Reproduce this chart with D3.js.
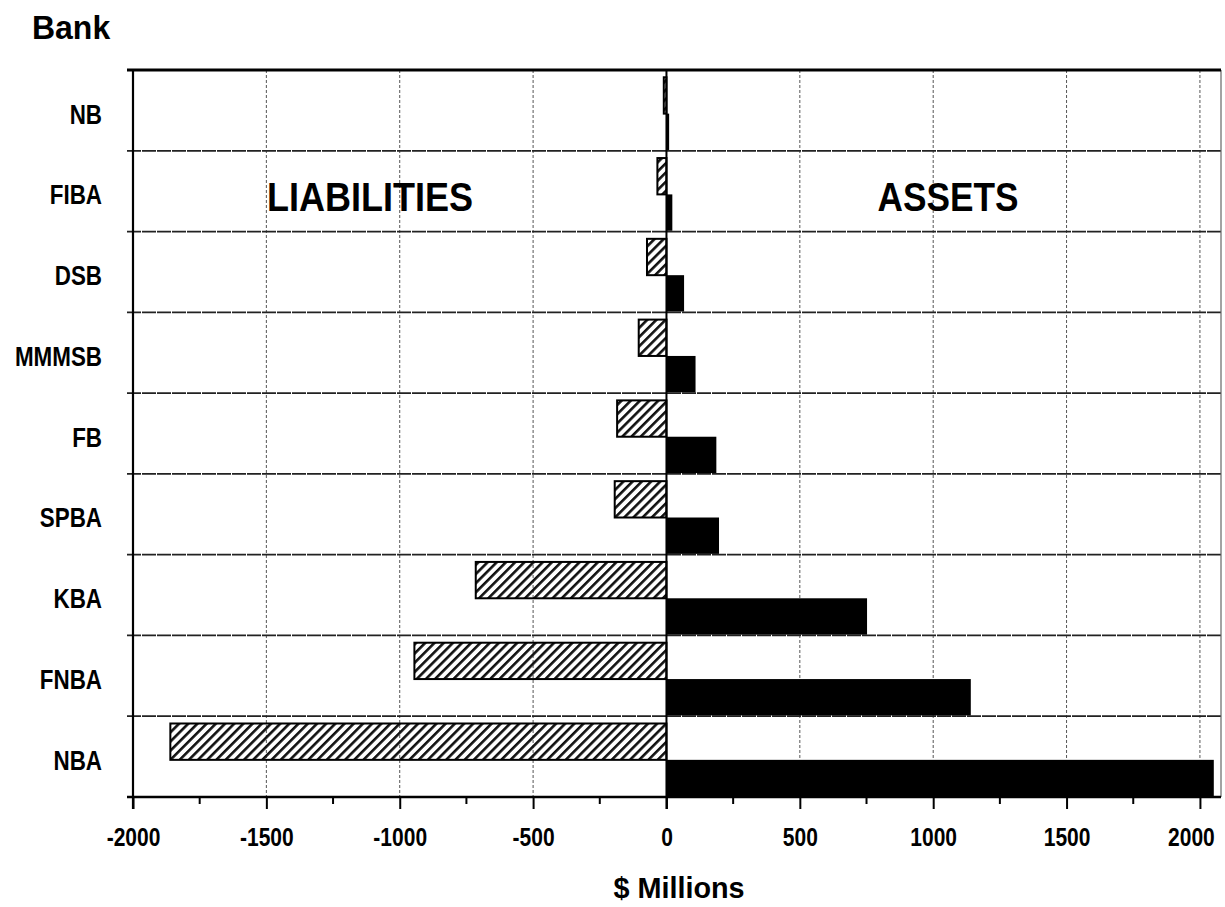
<!DOCTYPE html>
<html>
<head>
<meta charset="utf-8">
<script src="https://cdn.jsdelivr.net/npm/d3@7"></script>
<style>
  body { margin: 0; background: #fff; }
  text { font-family: "Liberation Sans", Arial, sans-serif; font-weight: bold; fill: #000; }
</style>
</head>
<body>
<svg width="1225" height="907"></svg>
<script>
// bank balance sheet, $ millions
const banks = ["NB", "FIBA", "DSB", "MMMSB", "FB", "SPBA", "KBA", "FNBA", "NBA"]
const liabilities = [-10, -34, -73, -104, -185, -194, -715, -945, -1860]
const assets = [10, 22, 66, 109, 187, 197, 752, 1141, 2052]
const xTicks = [-2000, -1500, -1000, -500, 0, 500, 1000, 1500, 2000]
const xMinor = [-1750, -1250, -750, -250, 250, 750, 1250, 1750]

const svg = d3.select("svg")
const plotL = 133, plotR = 1221, plotT = 70, plotB = 797

const x = d3.scaleLinear().domain([-2000, 2079]).range([plotL, plotR])
const y = d3.scaleBand().domain(banks).range([plotT, plotB])
const bw = y.bandwidth()
const ySub = d3.scaleBand().domain(["liab", "asset"]).range([bw * 0.09, bw * 0.99])

// squeeze text horizontally, the scan uses a narrow face
function condense(sel, k) {
  sel.each(function() {
    const w = this.getComputedTextLength()
    d3.select(this).attr("textLength", w * k).attr("lengthAdjust", "spacingAndGlyphs")
  })
}

// hatch for liabilities
const defs = svg.append("defs")
defs.append("pattern")
    .attr("id", "hatch")
    .attr("patternUnits", "userSpaceOnUse")
    .attr("width", 6.5).attr("height", 6.5)
    .attr("patternTransform", "rotate(45)")
  .append("rect")
    .attr("width", 2.6).attr("height", 6.5)
    .attr("fill", "#111")

// vertical grid (thin, dotted)
svg.append("g").selectAll("line")
  .data(xTicks.filter(d => d !== 0 && d !== -2000))
  .enter().append("line")
    .attr("x1", d => x(d)).attr("x2", d => x(d))
    .attr("y1", plotT).attr("y2", plotB)
    .attr("stroke", "#555").attr("stroke-width", 1)
    .attr("stroke-dasharray", "3,2")

// horizontal grid between banks
svg.append("g").selectAll("line")
  .data(banks.slice(1))
  .enter().append("line")
    .attr("x1", plotL - 6).attr("x2", plotR)
    .attr("y1", d => y(d)).attr("y2", d => y(d))
    .attr("stroke", "#222").attr("stroke-width", 1.8)
    .attr("stroke-dasharray", "14,1")

// right border
svg.append("line")
  .attr("x1", plotR).attr("x2", plotR).attr("y1", plotT).attr("y2", plotB)
  .attr("stroke", "#666").attr("stroke-width", 1.2)

const rows = banks.map((b, i) => ({bank: b, liab: liabilities[i], asset: assets[i]}))

// liability bars
svg.append("g").selectAll("rect")
  .data(rows)
  .enter().append("rect")
    .attr("x", d => x(d.liab))
    .attr("y", d => y(d.bank) + ySub("liab"))
    .attr("width", d => x(0) - x(d.liab))
    .attr("height", ySub.bandwidth())
    .attr("fill", "url(#hatch)")
    .attr("stroke", "#000").attr("stroke-width", 2)

// asset bars
svg.append("g").selectAll("rect")
  .data(rows)
  .enter().append("rect")
    .attr("x", x(0))
    .attr("y", d => y(d.bank) + ySub("asset"))
    .attr("width", d => x(d.asset) - x(0))
    .attr("height", ySub.bandwidth())
    .attr("fill", "#000")

// zero line
svg.append("line")
  .attr("x1", x(0)).attr("x2", x(0)).attr("y1", plotT).attr("y2", plotB + 12)
  .attr("stroke", "#000").attr("stroke-width", 2)

// frame: top, left, bottom
svg.append("line").attr("x1", plotL - 6).attr("x2", plotR).attr("y1", plotT).attr("y2", plotT)
  .attr("stroke", "#000").attr("stroke-width", 3)
svg.append("line").attr("x1", plotL).attr("x2", plotL).attr("y1", plotT).attr("y2", plotB + 12)
  .attr("stroke", "#000").attr("stroke-width", 2.2)
svg.append("line").attr("x1", plotL - 6).attr("x2", plotR).attr("y1", plotB).attr("y2", plotB)
  .attr("stroke", "#000").attr("stroke-width", 2.5)

// x axis
const xAxis = svg.append("g").attr("transform", `translate(0,${plotB})`)
  .call(d3.axisBottom(x).tickValues(xTicks).tickSize(12).tickPadding(0).tickFormat(d => String(d)))
xAxis.select(".domain").remove()
xAxis.selectAll(".tick line").attr("stroke", "#000").attr("stroke-width", 2)
xAxis.selectAll("text").attr("y", 49).attr("dy", null).style("font-size", "25px")
  .attr("dx", d => d === 2000 ? -9 : 0)
  .call(condense, 0.84)

svg.append("g").selectAll("line")
  .data(xMinor)
  .enter().append("line")
    .attr("x1", d => x(d)).attr("x2", d => x(d))
    .attr("y1", plotB).attr("y2", plotB + 7)
    .attr("stroke", "#000").attr("stroke-width", 2)

// y axis labels
const yAxis = svg.append("g").attr("transform", `translate(${plotL},0)`)
  .call(d3.axisLeft(y).tickSize(0).tickPadding(31))
yAxis.select(".domain").remove()
yAxis.selectAll("text").attr("dy", "0.47em").style("font-size", "28px")
  .call(condense, 0.8)

// titles
svg.append("text").attr("x", 32).attr("y", 39).style("font-size", "34px").text("Bank")
  .call(condense, 0.94)
svg.append("text").attr("x", 679).attr("y", 898)
  .attr("text-anchor", "middle").style("font-size", "30px").text("$ Millions")
  .call(condense, 0.96)
svg.append("text").attr("x", 370).attr("y", 211).attr("text-anchor", "middle")
  .style("font-size", "40px").text("LIABILITIES")
  .call(condense, 0.9)
svg.append("text").attr("x", 948).attr("y", 211).attr("text-anchor", "middle")
  .style("font-size", "40px").text("ASSETS")
  .call(condense, 0.88)
</script>
</body>
</html>
